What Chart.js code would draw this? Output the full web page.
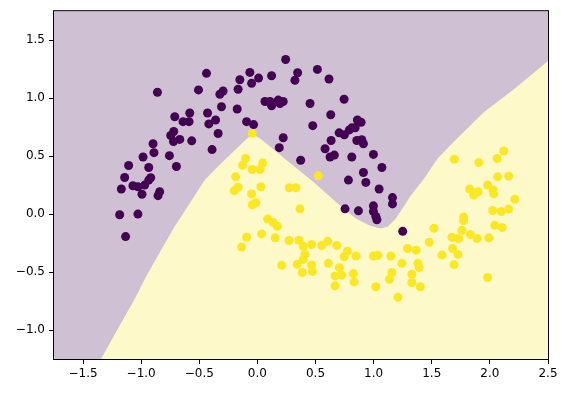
<!DOCTYPE html>
<html>
<head>
<meta charset="utf-8">
<script src="https://cdn.jsdelivr.net/npm/chart.js@4/dist/chart.umd.min.js"></script>
<style>
  body { margin: 0; background: #fff; }
  canvas { display: block; }
</style>
</head>
<body>
<canvas id="moons" width="570" height="393"></canvas>
<script>
// tick labels
const xTicks = [-1.5, -1.0, -0.5, 0.0, 0.5, 1.0, 1.5, 2.0, 2.5];
const yTicks = [-1.0, -0.5, 0.0, 0.5, 1.0, 1.5];

// class 0 (purple) points
const purpleX = [-0.438,-0.860,-0.507,-0.065,-0.151,-0.050,0.010,-0.295,-0.323,-0.166,
  -0.309,-0.174,-0.582,-0.711,-0.640,-0.588,-0.429,-0.360,-0.418,-0.093,
  -0.033,-0.720,-0.746,-0.668,-0.722,-0.565,-0.338,-0.898,-0.890,-0.984,
  -0.757,-0.390,-0.697,-0.935,-1.108,-1.142,-1.171,-1.071,-1.028,-0.970,
  -0.935,-0.918,-0.993,-0.841,-0.855,-1.185,-1.028,-1.134,
  0.243,0.122,0.346,0.323,0.516,0.616,0.065,0.108,0.122,0.179,0.222,0.194,
  0.453,0.746,0.631,0.476,0.860,0.892,0.812,0.841,0.791,0.703,0.748,
  0.855,0.898,0.912,0.634,0.582,0.625,0.662,0.812,0.998,1.071,
  0.912,0.783,0.933,1.047,1.162,1.162,0.754,0.869,0.998,0.998,1.019,1.028,1.250,
  0.222,0.188,0.372];
const purpleY = [1.214,1.051,1.071,1.222,1.159,1.128,1.173,1.062,1.034,1.077,
  0.926,0.906,0.872,0.840,0.797,0.797,0.872,0.812,0.778,0.797,
  0.772,0.712,0.678,0.644,0.626,0.632,0.695,0.607,0.530,0.492,
  0.504,0.556,0.410,0.402,0.419,0.316,0.216,0.244,0.236,0.250,
  0.293,0.313,0.171,0.193,0.159,-0.006,0.000,-0.194,
  1.333,1.193,1.219,1.154,1.248,1.165,0.971,0.971,0.934,0.983,0.971,0.954,
  0.954,0.991,0.857,0.763,0.812,0.792,0.744,0.744,0.726,0.701,0.684,
  0.635,0.641,0.607,0.635,0.564,0.492,0.509,0.492,0.515,0.402,
  0.359,0.293,0.273,0.216,0.142,0.088,0.045,0.028,0.071,0.022,-0.021,-0.049,-0.149,
  0.658,0.573,0.464];

// class 1 (yellow) points
const yellowX = [-0.045,-0.102,-0.128,-0.045,0.022,0.045,-0.188,-0.166,-0.200,0.030,
  -0.050,-0.013,-0.045,0.274,0.332,0.366,0.524,0.088,0.136,0.171,
  -0.093,-0.136,0.036,0.153,0.272,0.358,0.395,0.467,0.553,0.605,
  0.683,0.774,0.746,0.849,0.409,0.395,0.343,0.467,0.473,0.386,
  0.209,0.610,0.705,0.668,0.726,0.826,0.832,0.668,
  1.694,1.904,2.062,2.119,2.067,2.162,1.826,1.898,1.860,1.981,2.028,2.033,
  2.214,2.024,2.097,2.162,1.774,1.774,2.041,2.105,1.519,1.760,
  1.674,1.731,1.832,1.890,1.990,1.478,1.680,1.726,1.588,1.691,
  1.291,1.366,1.148,1.243,1.381,1.392,1.157,1.136,1.329,1.329,
  1.401,1.019,1.209,1.981,0.998,1.036];
const yellowY = [0.697,0.479,0.421,0.385,0.385,0.441,0.321,0.231,0.202,0.236,
  0.174,0.099,0.079,0.227,0.227,0.045,0.330,-0.043,-0.072,-0.106,
  -0.200,-0.285,-0.171,-0.205,-0.228,-0.226,-0.277,-0.262,-0.271,-0.234,
  -0.271,-0.320,-0.368,-0.362,-0.348,-0.391,-0.433,-0.439,-0.496,-0.504,
  -0.442,-0.425,-0.462,-0.533,-0.527,-0.513,-0.585,-0.619,
  0.473,0.444,0.479,0.544,0.321,0.327,0.216,0.193,0.165,0.250,0.208,0.174,
  0.128,0.031,0.022,0.043,-0.026,-0.055,-0.097,-0.115,-0.123,-0.140,
  -0.200,-0.211,-0.177,-0.211,-0.205,-0.243,-0.297,-0.348,-0.354,-0.436,
  -0.297,-0.311,-0.362,-0.425,-0.425,-0.462,-0.504,-0.562,-0.519,-0.590,
  -0.627,-0.627,-0.718,-0.547,-0.362,-0.356];

// decision boundary (class 1 region lies below it)
const boundaryX = [-1.345,-1.185,-1.071,-0.955,-0.826,-0.711,-0.582,-0.453,-0.30,-0.108,-0.04,
  0.04,0.27,0.49,0.68,0.85,0.97,1.06,1.12,1.19,1.32,1.43,1.55,1.70,1.95,2.21,2.5];
const boundaryY = [-1.25,-0.961,-0.761,-0.533,-0.305,-0.106,0.094,0.293,0.45,0.635,0.69,
  0.64,0.45,0.27,0.10,-0.04,-0.10,-0.125,-0.11,-0.04,0.16,0.30,0.48,0.635,0.88,1.08,1.32];

const pts = (xs, ys) => xs.map((x, i) => ({ x: x, y: ys[i] }));
const fmt = v => (v < 0 ? '\u2212' : '') + Math.abs(v).toFixed(1);

const frame = {
  id: 'frame',
  beforeDraw(chart) {
    const { ctx, chartArea } = chart;
    ctx.save();
    ctx.fillStyle = 'rgb(208,192,212)';
    ctx.fillRect(chartArea.left, chartArea.top, chartArea.width, chartArea.height);
    ctx.restore();
  },
  afterDraw(chart) {
    const { ctx, chartArea } = chart;
    ctx.save();
    ctx.strokeStyle = '#000';
    ctx.lineWidth = 1;
    ctx.strokeRect(chartArea.left - 0.5, chartArea.top - 0.5, chartArea.width + 1, chartArea.height + 1);
    ctx.restore();
  }
};

const font = { family: 'DejaVu Sans', size: 12 };

new Chart(document.getElementById('moons').getContext('2d'), {
  type: 'scatter',
  data: {
    datasets: [
      {
        data: pts(purpleX, purpleY),
        backgroundColor: '#440154',
        borderWidth: 0,
        pointRadius: 4.5,
        order: 1
      },
      {
        data: pts(yellowX, yellowY),
        backgroundColor: '#fde725',
        borderWidth: 0,
        pointRadius: 4.5,
        order: 2
      },
      {
        type: 'line',
        data: pts(boundaryX, boundaryY),
        showLine: true,
        borderWidth: 0,
        borderColor: 'transparent',
        backgroundColor: 'rgb(254,249,200)',
        pointRadius: 0,
        tension: 0,
        fill: 'start',
        order: 3
      }
    ]
  },
  options: {
    responsive: false,
    animation: false,
    layout: { padding: { top: 9, right: 22, left: 0, bottom: 0 } },
    plugins: {
      legend: { display: false },
      tooltip: { enabled: false }
    },
    scales: {
      x: {
        type: 'linear',
        min: -1.75,
        max: 2.5,
        afterBuildTicks: s => { s.ticks = xTicks.map(v => ({ value: v })); },
        afterFit: s => { s.height = 34; },
        ticks: { font: font, color: '#000', padding: 3, maxRotation: 0, callback: fmt },
        grid: { display: true, drawOnChartArea: false, drawTicks: true, tickLength: 5, color: '#000' },
        border: { display: false }
      },
      y: {
        type: 'linear',
        min: -1.25,
        max: 1.75,
        afterBuildTicks: s => { s.ticks = yTicks.map(v => ({ value: v })); },
        afterFit: s => { s.width = 54; },
        ticks: { font: font, color: '#000', padding: 4, callback: fmt },
        grid: { display: true, drawOnChartArea: false, drawTicks: true, tickLength: 5, color: '#000' },
        border: { display: false }
      }
    }
  },
  plugins: [frame]
});
</script>
</body>
</html>
